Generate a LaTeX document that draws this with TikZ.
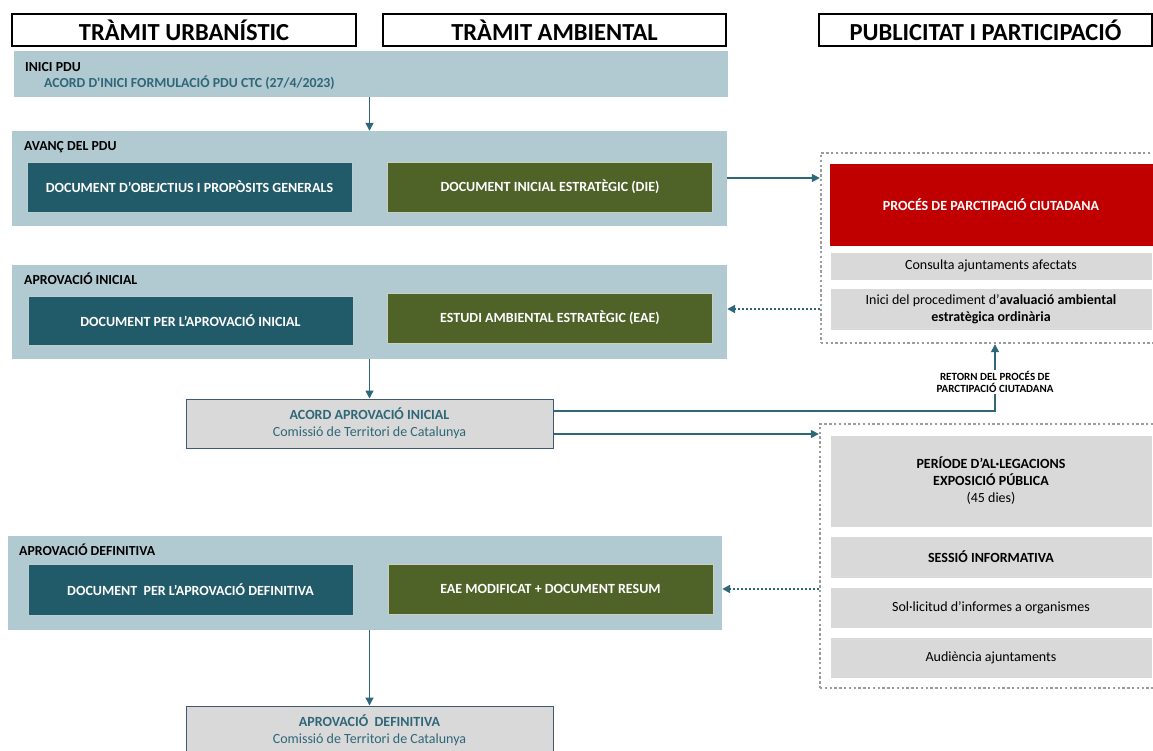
\documentclass[tikz,border=0pt]{standalone}
\usepackage{fontspec}
\setmainfont{Carlito}
\usetikzlibrary{arrows.meta}
\usetikzlibrary{positioning}
\definecolor{bandblue}{HTML}{B1C9D1}
\definecolor{docteal}{HTML}{215A69}
\definecolor{docolive}{HTML}{4F6228}
\definecolor{procred}{HTML}{C00000}
\definecolor{boxgray}{HTML}{D9D9D9}
\definecolor{dotgray}{HTML}{9C9C9C}
\definecolor{tealtext}{HTML}{2E6778}
\definecolor{acordedge}{HTML}{3F5778}
\tikzset{head/.style = {draw=black, line width=1.2pt, fill=white, minimum height=32pt, inner sep=0, font=\fontsize{24.5}{28}\selectfont\bfseries}}
\tikzset{band/.style = {fill=bandblue, inner sep=0}}
\tikzset{bandlabel/.style = {anchor=west, inner sep=0, font=\fontsize{13.8}{16}\selectfont\bfseries}}
\tikzset{docbox/.style = {fill=docteal, draw=white!70!docteal, line width=0.8pt, text=white, minimum width=325pt, minimum height=50pt, inner sep=0, font=\fontsize{14}{17}\selectfont\bfseries}}
\tikzset{ambbox/.style = {docbox, fill=docolive, draw=white!70!docolive}}
\tikzset{acord/.style = {fill=boxgray, draw=acordedge, line width=1pt, text=tealtext, minimum width=367pt, minimum height=49pt, inner sep=0, align=center, font=\fontsize{14}{17}\selectfont}}
\tikzset{pubbox/.style = {fill=boxgray, draw=white, line width=0.8pt, minimum width=322pt, inner sep=0, align=center, font=\fontsize{14}{17}\selectfont}}
\tikzset{dotframe/.style = {draw=dotgray, line width=2.4pt, dash pattern=on 2.4pt off 2.4pt, inner sep=0}}
\tikzset{flow/.style = {draw=tealtext, line width=1.4pt, -{Triangle[length=8pt,width=8pt]}}}
\tikzset{dotflow/.style = {flow, line width=2.4pt, dash pattern=on 2.2pt off 1.8pt}}

\begin{document}
\begin{tikzpicture}[x=1pt,y=-1pt]
    \useasboundingbox (0,0) rectangle (1153,751);
    \node[head, minimum width=344pt] (hurb) at (184,30) {TRÀMIT URBANÍSTIC};
    \node[head, minimum width=343pt] (hamb) at (554.5,30) {TRÀMIT AMBIENTAL};
    \node[head, minimum width=333pt] (hpub) at (985.5,30) {PUBLICITAT I PARTICIPACIÓ};

    \node[band, minimum width=714pt, minimum height=46pt] (inici) at (371,74) {};
    \node[bandlabel] (lblinici) at (25,67) {INICI PDU};
    \node[bandlabel, text=tealtext] (acordpdu) at (44,83) {ACORD D\textquotesingle INICI FORMULACIÓ PDU CTC (27/4/2023)};

    \node[band, minimum width=715pt, minimum height=95pt] (avanc) at (369.5,178.5) {};
    \node[bandlabel] (lblavanc) at (24,147) {AVANÇ DEL PDU};
    \node[docbox] (objectius) at (189.5,187) {DOCUMENT D’OBEJCTIUS I PROPÒSITS GENERALS};
    \node[ambbox] (die) at (550,187) {DOCUMENT INICIAL ESTRATÈGIC (DIE)};

    \node[band, minimum width=715pt, minimum height=94pt] (apini) at (369.5,312) {};
    \node[bandlabel] (lblapini) at (24,279) {APROVACIÓ INICIAL};
    \node[docbox, minimum height=49pt] (docini) at (190.5,320.5) {DOCUMENT PER L’APROVACIÓ INICIAL};
    \node[ambbox] (eae) at (550,318) {ESTUDI AMBIENTAL ESTRATÈGIC (EAE)};

    \node[acord] (acordini) at (369.5,423.5) {\textbf{ACORD APROVACIÓ INICIAL}\\Comissió de Territori de Catalunya};

    \node[band, minimum width=714pt, minimum height=94pt] (apdef) at (365,583) {};
    \node[bandlabel] (lblapdef) at (19,550) {APROVACIÓ DEFINITIVA};
    \node[docbox, minimum height=51pt] (docdef) at (190.5,589.5) {DOCUMENT\ \ PER L’APROVACIÓ DEFINITIVA};
    \node[ambbox] (eaemod) at (550.5,589) {EAE MODIFICAT + DOCUMENT RESUM};

    \node[acord] (acorddef) at (369.5,730.5) {\textbf{APROVACIÓ\ \ DEFINITIVA}\\Comissió de Territori de Catalunya};

    \node[dotframe, minimum width=348pt, minimum height=190pt] (part) at (995,248) {};
    \node[pubbox, fill=procred, draw=procred, text=white, minimum height=81pt, font=\fontsize{14}{17}\selectfont\bfseries] (proces) at (991,204.5) {PROCÉS DE PARCTIPACIÓ CIUTADANA};
    \node[pubbox, minimum height=28pt] (consulta) at (991,266) {Consulta ajuntaments afectats};
    \node[pubbox, minimum height=42pt] (aval) at (991,309) {Inici del procediment d’\textbf{avaluació ambiental}\\\textbf{estratègica ordinària}};

    \node[dotframe, minimum width=349pt, minimum height=264pt] (expo) at (994.5,556) {};
    \node[pubbox, minimum height=92pt] (periode) at (991,481) {\textbf{PERÍODE D’AL·LEGACIONS}\\\textbf{EXPOSICIÓ PÚBLICA}\\(45 dies)};
    \node[pubbox, minimum height=42pt, font=\fontsize{14}{17}\selectfont\bfseries] (sessio) at (991,557) {SESSIÓ INFORMATIVA};
    \node[pubbox, minimum height=41pt] (informes) at (991,607.5) {Sol·licitud d’informes a organismes};
    \node[pubbox, minimum height=41pt] (audiencia) at (991,657.5) {Audiència ajuntaments};

    \coordinate (dieout) at (727,178);
    \draw[flow] (inici.south -| acordini.north) -- (avanc.north -| acordini.north);
    \draw[flow] (dieout) -- (dieout -| part.west);
    \draw[dotflow] (part.west |- aval) -- (apini.east |- aval);
    \draw[flow] (apini.south -| acordini.north) -- (acordini.north);
    \draw[flow] ([yshift=12.5pt]acordini.east) -| (part.south);
    \node[fill=white, inner sep=1pt, align=center, font=\fontsize{11}{12.5}\selectfont\bfseries] (retorn) at (995,382) {RETORN DEL PROCÉS DE\\PARCTIPACIÓ CIUTADANA};
    \draw[flow] ([yshift=-10.5pt]acordini.east) -- ([yshift=-10.5pt]acordini.east -| expo.west);
    \draw[dotflow] (expo.west |- eaemod) -- (apdef.east |- eaemod);
    \draw[flow] (apdef.south -| acorddef.north) -- (acorddef.north);
\end{tikzpicture}
\end{document}
